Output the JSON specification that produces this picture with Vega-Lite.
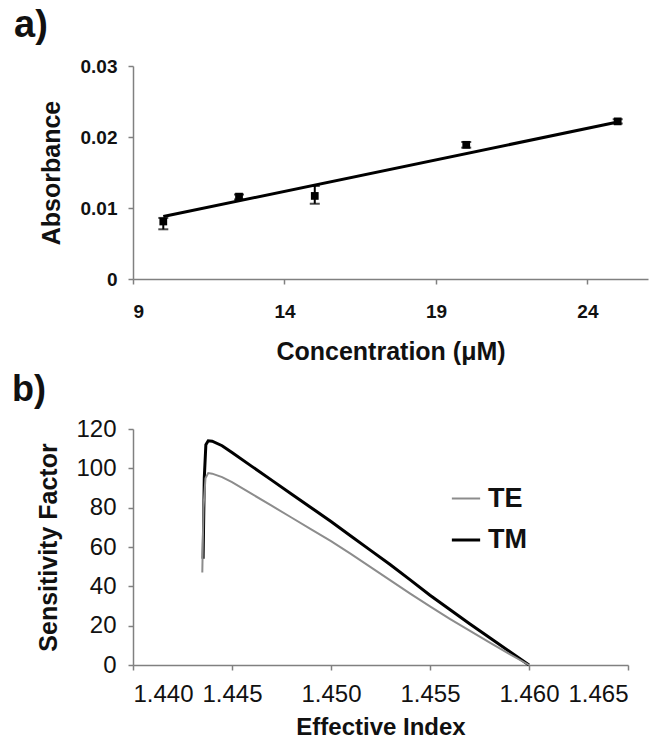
{
  "$schema": "https://vega.github.io/schema/vega-lite/v6.json",
  "background": "white",
  "padding": {"left": 11, "top": 7, "right": 4, "bottom": 0},
  "spacing": 8,
  "config": {
    "view": {"stroke": null},
    "font": "Liberation Sans",
    "axis": {
      "grid": false,
      "domainColor": "#808080",
      "domainWidth": 1.5,
      "tickColor": "#808080",
      "tickWidth": 1.5,
      "tickSize": 5,
      "labelColor": "#111111",
      "titleColor": "#111111",
      "labelFont": "Liberation Sans",
      "titleFont": "Liberation Sans",
      "titleFontWeight": "bold"
    }
  },
  "vconcat": [
    {
      "title": {"text": "a)", "anchor": "start", "frame": "bounds", "fontSize": 38, "fontWeight": "bold", "font": "Liberation Sans", "dx": -25, "offset": 12, "color": "#111111"},
      "width": 515,
      "height": 213,
      "data": {"values": [
        {"conc": 10, "abs": 0.0081, "lo": 0.0070, "hi": 0.0086},
        {"conc": 12.5, "abs": 0.0116, "lo": 0.0112, "hi": 0.0119},
        {"conc": 15, "abs": 0.0117, "lo": 0.0106, "hi": 0.0131},
        {"conc": 20, "abs": 0.0189, "lo": 0.0185, "hi": 0.0193},
        {"conc": 25, "abs": 0.0222, "lo": 0.0219, "hi": 0.0225}
      ]},
      "layer": [
        {
          "data": {"values": [{"conc": 10, "fit": 0.0088}, {"conc": 25, "fit": 0.0221}]},
          "mark": {"type": "line", "color": "#000000", "strokeWidth": 3},
          "encoding": {
            "x": {"field": "conc", "type": "quantitative", "title": "Concentration (\u03bcM)", "scale": {"domain": [9, 26], "nice": false, "zero": false}},
            "y": {"field": "fit", "type": "quantitative", "title": "Absorbance", "scale": {"domain": [0, 0.03], "nice": false}}
          }
        },
        {
          "mark": {"type": "errorbar", "ticks": {"size": 10, "color": "#000000", "strokeWidth": 2}, "color": "#000000", "thickness": 2},
          "encoding": {
            "x": {"field": "conc", "type": "quantitative", "title": "Concentration (\u03bcM)"},
            "y": {"field": "lo", "type": "quantitative", "title": "Absorbance"},
            "y2": {"field": "hi"}
          }
        },
        {
          "mark": {"type": "square", "filled": true, "color": "#000000", "size": 60, "opacity": 1},
          "encoding": {
            "x": {"field": "conc", "type": "quantitative", "title": "Concentration (\u03bcM)",
              "axis": {"values": [9, 14, 19, 24], "labelFontSize": 19, "labelFontWeight": "bold", "titleFontSize": 25, "labelPadding": 18, "titlePadding": 18}},
            "y": {"field": "abs", "type": "quantitative", "title": "Absorbance",
              "axis": {"values": [0, 0.01, 0.02, 0.03], "format": ".2~f", "labelFontSize": 19, "labelFontWeight": "bold", "titleFontSize": 25, "labelPadding": 11, "titlePadding": 16}}
          }
        }
      ]
    },
    {
      "title": {"text": "b)", "anchor": "start", "frame": "bounds", "fontSize": 36, "fontWeight": "bold", "font": "Liberation Sans", "dx": -25, "offset": 8, "color": "#111111"},
      "width": 495,
      "height": 236,
      "data": {"values": [
        {"n": 1.44354, "s": 54, "mode": "TM"},
        {"n": 1.44360, "s": 95, "mode": "TM"},
        {"n": 1.44368, "s": 112, "mode": "TM"},
        {"n": 1.44380, "s": 114, "mode": "TM"},
        {"n": 1.44400, "s": 113.8, "mode": "TM"},
        {"n": 1.44450, "s": 111.5, "mode": "TM"},
        {"n": 1.4450, "s": 108, "mode": "TM"},
        {"n": 1.4460, "s": 101, "mode": "TM"},
        {"n": 1.4470, "s": 94, "mode": "TM"},
        {"n": 1.4480, "s": 87, "mode": "TM"},
        {"n": 1.4490, "s": 80, "mode": "TM"},
        {"n": 1.4500, "s": 73, "mode": "TM"},
        {"n": 1.4510, "s": 65.6, "mode": "TM"},
        {"n": 1.4520, "s": 58.3, "mode": "TM"},
        {"n": 1.4530, "s": 51, "mode": "TM"},
        {"n": 1.4540, "s": 43.3, "mode": "TM"},
        {"n": 1.4550, "s": 35.5, "mode": "TM"},
        {"n": 1.4560, "s": 28.2, "mode": "TM"},
        {"n": 1.4570, "s": 21, "mode": "TM"},
        {"n": 1.4580, "s": 14, "mode": "TM"},
        {"n": 1.4590, "s": 7, "mode": "TM"},
        {"n": 1.4600, "s": 0, "mode": "TM"},
        {"n": 1.44350, "s": 47, "mode": "TE"},
        {"n": 1.44356, "s": 80, "mode": "TE"},
        {"n": 1.44366, "s": 95, "mode": "TE"},
        {"n": 1.44380, "s": 97.6, "mode": "TE"},
        {"n": 1.44400, "s": 97.3, "mode": "TE"},
        {"n": 1.44450, "s": 95.5, "mode": "TE"},
        {"n": 1.4450, "s": 93, "mode": "TE"},
        {"n": 1.4460, "s": 87, "mode": "TE"},
        {"n": 1.4470, "s": 81, "mode": "TE"},
        {"n": 1.4480, "s": 75, "mode": "TE"},
        {"n": 1.4490, "s": 69, "mode": "TE"},
        {"n": 1.4500, "s": 63, "mode": "TE"},
        {"n": 1.4510, "s": 56.5, "mode": "TE"},
        {"n": 1.4520, "s": 49.8, "mode": "TE"},
        {"n": 1.4530, "s": 43, "mode": "TE"},
        {"n": 1.4540, "s": 36.3, "mode": "TE"},
        {"n": 1.4550, "s": 29.8, "mode": "TE"},
        {"n": 1.4560, "s": 23.5, "mode": "TE"},
        {"n": 1.4570, "s": 17.5, "mode": "TE"},
        {"n": 1.4580, "s": 11.5, "mode": "TE"},
        {"n": 1.4590, "s": 5.7, "mode": "TE"},
        {"n": 1.4600, "s": 0, "mode": "TE"}
      ]},
      "mark": {"type": "line"},
      "encoding": {
        "x": {"field": "n", "type": "quantitative", "scale": {"domain": [1.44, 1.465], "nice": false, "zero": false},
          "axis": {"title": "Effective Index", "values": [1.44, 1.445, 1.45, 1.455, 1.46, 1.465], "format": ".3f", "labelFontSize": 24, "titleFontSize": 24, "labelPadding": 12, "titlePadding": 9}},
        "y": {"field": "s", "type": "quantitative", "scale": {"domain": [0, 120], "nice": false},
          "axis": {"title": "Sensitivity Factor", "values": [0, 20, 40, 60, 80, 100, 120], "labelFontSize": 24, "titleFontSize": 25, "labelPadding": 12, "titlePadding": 14}},
        "color": {"field": "mode", "type": "nominal", "sort": ["TE", "TM"],
          "scale": {"domain": ["TE", "TM"], "range": ["#8c8c8c", "#000000"]},
          "legend": {"title": null, "orient": "none", "legendX": 317, "legendY": 417, "symbolType": "stroke", "symbolSize": 800, "symbolStrokeWidth": 2.8, "labelFontSize": 27, "labelFontWeight": "bold", "labelColor": "#111111", "rowPadding": 12, "labelOffset": 6}},
        "strokeWidth": {"field": "mode", "type": "nominal", "scale": {"domain": ["TE", "TM"], "range": [2, 3]}, "legend": null},
        "order": {"field": "n", "type": "quantitative"}
      }
    }
  ]
}
